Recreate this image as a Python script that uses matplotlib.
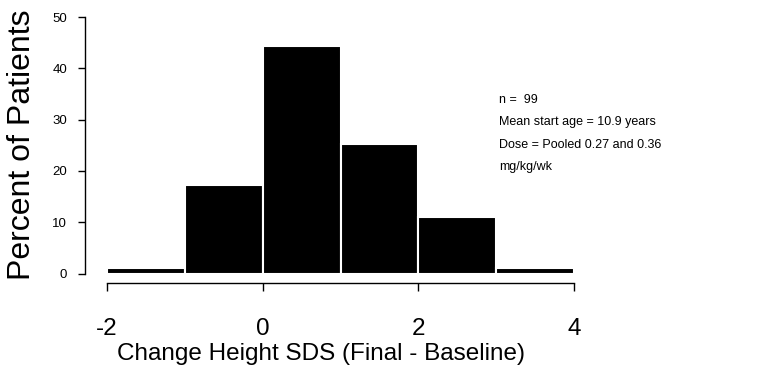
import matplotlib.pyplot as plt
import numpy as np

plt.rcParams["font.family"] = ["Liberation Sans", "DejaVu Sans"]

# histogram bins (SDS change) and percent of patients per bin
bin_edges = [-2, -1, 0, 1, 2, 3, 4]
percent = [1.0, 17.2, 44.4, 25.3, 11.1, 1.0]

x_ticks = [-2, 0, 2, 4]
y_ticks = [0, 10, 20, 30, 40, 50]

notes = ["n =  99", "Mean start age = 10.9 years",
         "Dose = Pooled 0.27 and 0.36", "mg/kg/wk"]

fig = plt.figure(figsize=(7.68, 3.73), dpi=100)
ax = fig.add_axes([85 / 768, 90 / 373, 489 / 768, 266 / 373])

left = np.array(bin_edges[:-1])
widths = np.diff(bin_edges)
ax.bar(left, percent, width=widths, align="edge", color="black",
       edgecolor="white", linewidth=1.5)

ax.set_xlim(-2.283, 4.0)
ax.set_ylim(-1.85, 50)

ax.spines["top"].set_visible(False)
ax.spines["right"].set_visible(False)
ax.spines["left"].set_bounds(0, 50)
ax.spines["bottom"].set_bounds(-2, 4)
for s in ("left", "bottom"):
    ax.spines[s].set_linewidth(1.0)

ax.set_xticks(x_ticks)
ax.set_xticklabels([str(t) for t in x_ticks], fontsize=17.5)
ax.set_yticks(y_ticks)
ax.set_yticklabels([str(t) for t in y_ticks], fontsize=9.5)
ax.tick_params(axis="x", length=6, width=1, pad=19)
ax.tick_params(axis="y", length=5, width=1, pad=8)

ax.set_xlabel("Change Height SDS (Final - Baseline)", fontsize=17.5)
ax.xaxis.set_label_coords(0.483, -0.225)
ax.set_ylabel("Percent of Patients", fontsize=23)
ax.yaxis.set_label_coords(-0.098, 0.52)

for i, line in enumerate(notes):
    fig.text(499 / 768, 1 - (100 + 22.3 * i) / 373, line, fontsize=9,
             va="center", ha="left")

fig.savefig("out.png", dpi=100)
